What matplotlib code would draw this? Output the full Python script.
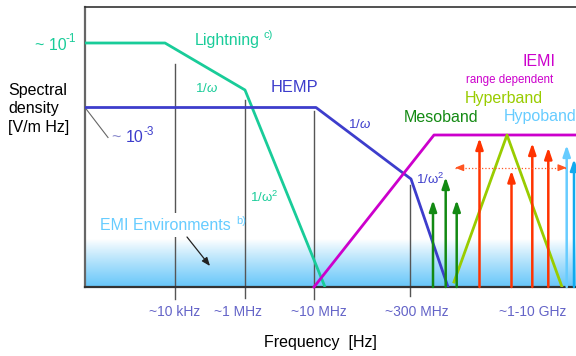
import numpy as np
import matplotlib
matplotlib.use("Agg")
import matplotlib.pyplot as plt

plt.rcParams['font.family'] = ['Liberation Sans', 'DejaVu Sans']
plt.rcParams['mathtext.fontset'] = 'custom'
plt.rcParams['mathtext.rm'] = 'Liberation Sans'
plt.rcParams['mathtext.it'] = 'Liberation Sans:italic'

# ---- schematic data (x: frequency position, y: spectral density level) ----
lightning_x = [0, 80, 160, 240]
lightning_y = [244, 244, 197, 0]
hemp_x = [0, 231, 326, 363]
hemp_y = [179.5, 179.5, 108, 0]
iemi_x = [229, 349, 491]
iemi_y = [0, 152, 152]
hyper_x = [369, 422, 477]
hyper_y = [5, 152, 0]
meso_x = [348, 360.7, 371.7]
meso_h = [87, 110, 87]
red_x = [394.5, 426.5, 447.3, 463.3]
red_h = [149, 116.5, 144, 139.5]
hypo_x = [481.7, 489]
hypo_h = [142, 128]
hypo_colors = ['#66ccff', '#11aaee']
range_arrow_x = [370, 481.7]
range_arrow_y = 119.3

guide_x = [90, 160, 229, 325]
guide_top = [223, 187, 176, 102]
guide_bottom = [-12, -11, -12, -9]
tick_pos = [90, 153, 234, 332, 448]
tick_labels = ['~10 kHz', '~1 MHz', '~10 MHz', '~300 MHz', '~1-10 GHz']

c_light = '#19cc99'
c_hemp = '#3d3dcc'
c_tick = '#6464c8'
c_iemi = '#cc00cc'
c_hyper = '#99cc00'
c_meso = '#138a13'
c_red = '#ff3300'
c_emi = '#66ccff'

fig = plt.figure(figsize=(5.76, 3.56), dpi=100)
W, H = 576, 356
L, R, T, B = 85, 576, 7, 287
ax = fig.add_axes([L / W, (H - B) / H, (R - L) / W, (B - T) / H])
ax.set_xlim(0, R - L)
ax.set_ylim(0, B - T)
ax.set_xticks([])
ax.set_yticks([])
ax.spines['right'].set_visible(False)
ax.spines['left'].set_color('#666666')
ax.spines['left'].set_linewidth(1.6)
ax.spines['bottom'].set_color('#333333')
ax.spines['bottom'].set_linewidth(1.6)
ax.spines['top'].set_color('#333333')
ax.spines['top'].set_linewidth(1.2)

# gradient background for EMI environments
n = 100
t = np.linspace(0, 1, n)[:, None]
base = np.array([0.40, 0.78, 0.98])
alpha = (1 - t) ** 0.9
img = np.zeros((n, 1, 4))
img[..., :3] = base
img[..., 3] = alpha
ax.imshow(img, extent=(0, R - L, 0, 48), origin='lower', aspect='auto', zorder=0)

# guide lines
for gx, gt, gb in zip(guide_x, guide_top, guide_bottom):
    ax.plot([gx, gx], [gb, gt], color='#555555', lw=1.0, clip_on=False, zorder=1)

# curves
ax.plot(lightning_x, lightning_y, color=c_light, lw=2, zorder=3, solid_capstyle='butt')
ax.plot(hemp_x, hemp_y, color=c_hemp, lw=2, zorder=3)
ax.plot(iemi_x, iemi_y, color=c_iemi, lw=2, zorder=3, clip_on=False)
ax.plot(hyper_x, hyper_y, color=c_hyper, lw=2, zorder=3)

def up_arrow(x, h, color):
    ax.annotate('', xy=(x, h), xytext=(x, 0),
                arrowprops=dict(arrowstyle='-|>,head_length=0.65,head_width=0.22',
                                color=color, lw=1.8, shrinkA=0, shrinkB=0),
                zorder=4, annotation_clip=False)

for x, h in zip(meso_x, meso_h):
    up_arrow(x, h, c_meso)
for x, h in zip(red_x, red_h):
    up_arrow(x, h, c_red)
for x, h, c in zip(hypo_x, hypo_h, hypo_colors):
    up_arrow(x, h, c)

# dotted range double arrow
ax.plot(range_arrow_x, [range_arrow_y] * 2, color='#ff5522', lw=0.9, ls=':', zorder=4)
for xs, xe in [(range_arrow_x[0] + 6, range_arrow_x[0]), (range_arrow_x[1] - 6, range_arrow_x[1])]:
    ax.annotate('', xy=(xe, range_arrow_y), xytext=(xs, range_arrow_y),
                arrowprops=dict(arrowstyle='-|>,head_length=0.5,head_width=0.2',
                                color='#ff5522', lw=0.9, shrinkA=0, shrinkB=0), zorder=4)

def px(x, y):
    return x - L, B - y

def txt(x, y, s, **kw):
    xx, yy = px(x, y)
    kw.setdefault('va', 'center')
    kw.setdefault('ha', 'left')
    return ax.text(xx, yy, s, clip_on=False, **kw)

# tick labels
for p, s in zip(tick_pos, tick_labels):
    ax.text(p, -25, s, ha='center', va='center', color=c_tick, fontsize=10, clip_on=False)

txt(320, 343, 'Frequency  [Hz]', ha='center', fontsize=11.5, color='black')
txt(8, 109, 'Spectral\ndensity\n[V/m Hz]', fontsize=11.5, color='black', linespacing=1.3)

txt(35, 45, '~ 10', fontsize=11.5, color=c_light)
txt(66, 39, '-1', fontsize=8.5, color=c_light)
txt(111, 138, '~', fontsize=11.5, color='#8888cc')
txt(126, 138, '10', fontsize=11.5, color=c_hemp)
txt(143, 132, '-3', fontsize=8.5, color=c_hemp)
ax.plot([0, 23], [hemp_y[0], hemp_y[0] - 30], color='#666666', lw=0.8, clip_on=False)

txt(195, 40, 'Lightning', fontsize=11.5, color=c_light)
txt(263, 35, 'c)', fontsize=8, color=c_light)
txt(195, 89, r'1/$\omega$', fontsize=9.5, color=c_light)
txt(250, 197, r'1/$\mathregular{\omega^2}$', fontsize=9.5, color=c_light)

txt(271, 88, 'HEMP', fontsize=11.8, color=c_hemp)
txt(348, 125, r'1/$\omega$', fontsize=9.5, color=c_hemp)
txt(416, 179, r'1/$\mathregular{\omega^2}$', fontsize=9.5, color=c_hemp)

txt(539, 62, 'IEMI', ha='center', fontsize=11.5, color=c_iemi)
txt(510, 80, 'range dependent', ha='center', fontsize=8.3, color=c_iemi)
txt(504, 99, 'Hyperband', ha='center', fontsize=11.5, color=c_hyper)
txt(441, 117, 'Mesoband', ha='center', fontsize=11.5, color=c_meso)
txt(504, 117, 'Hypoband', fontsize=11.5, color=c_emi)

txt(100, 225, 'EMI Environments', fontsize=11.5, color=c_emi,
    bbox=dict(fc='white', ec='none', pad=3))
txt(236, 221, 'b)', fontsize=8, color=c_emi)
ax.annotate('', xy=px(210, 266), xytext=px(187, 237),
            arrowprops=dict(arrowstyle='-|>,head_length=0.5,head_width=0.2',
                            color='#222222', lw=0.9, shrinkA=0, shrinkB=0), zorder=5)

fig.savefig('out.png', dpi=100)
